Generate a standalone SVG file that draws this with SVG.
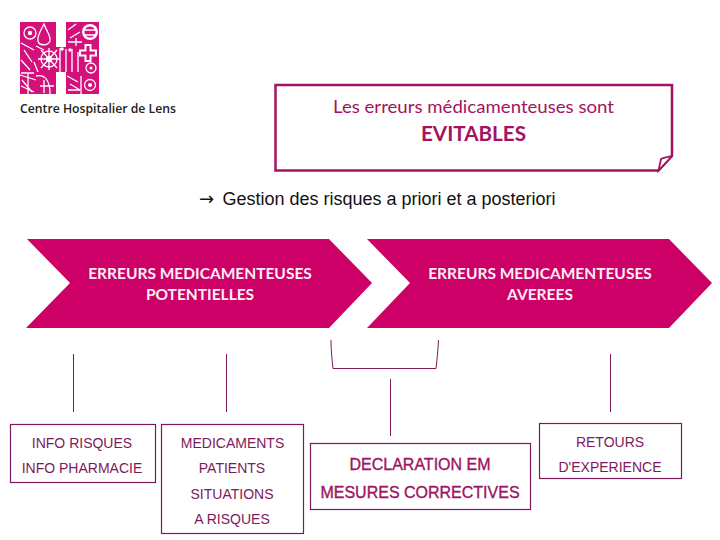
<svg xmlns="http://www.w3.org/2000/svg" width="720" height="540" viewBox="0 0 720 540">
<style>
.chev{fill:#cc0066}
.box{fill:#fff;stroke:#7d1a5b;stroke-width:1.2}
.line{fill:none;stroke:#7d1a5b;stroke-width:1}
.t{font-family:"Liberation Sans",Arial,sans-serif;font-size:14px;fill:#7d1a5b;text-anchor:middle}
.d{font-family:"Liberation Sans",Arial,sans-serif;font-size:16px;fill:#9c1560;stroke:#9c1560;stroke-width:.35;text-anchor:middle}
.c{font-family:Lato,"Open Sans",sans-serif;font-size:15.500px;font-weight:700;fill:#fbeef5;text-anchor:middle}
.w{fill:#fff}
.wl{fill:none;stroke:#fff;stroke-width:1.3}
</style>
<rect width="720" height="540" fill="#fff"/>
<g id="logo">
<path d="M20 22H56V47H66V22H99V94H66V72H56V94H20Z" fill="#d4117a"/>
<circle cx="30" cy="33" r="6" class="wl"/><circle cx="30" cy="33" r="2.200" class="w"/>
<path d="M44 24C40 32 37 36 38 41C39 46 48 46 50 41C51 36 47 32 44 24Z" class="wl"/>
<path d="M21 43L34 50M24 50L32 62M21 60L30 70M36 46L44 50M21 73H34M34 62L38 72" class="wl"/>
<circle cx="49" cy="59" r="8" class="wl"/><circle cx="49" cy="59" r="3.200" class="w"/>
<path d="M41 50L57 68M57 50L41 68M49 48V70M38 59H60" class="wl"/>
<path d="M60 48V72M66 49V72M72 49V72M78 52V72" class="wl"/>
<circle cx="62" cy="49" r="1.800" class="w"/><circle cx="70" cy="50" r="1.800" class="w"/>
<path d="M88 44V62M79 53H97" stroke="#fff" stroke-width="7" fill="none"/>
<path d="M88 46V60M81 53H95" stroke="#d4117a" stroke-width="3" fill="none"/>
<ellipse cx="90" cy="32" rx="8" ry="8" fill="#fff"/>
<ellipse cx="90" cy="32" rx="5.500" ry="5.500" fill="#d4117a"/><path d="M84 30H96M85 35H95" class="wl"/>
<path d="M68 30L76 24M70 38L80 32M68 42H82M76 38V46" class="wl"/>
<circle cx="91" cy="68" r="5" class="wl"/><circle cx="91" cy="68" r="1.500" class="w"/>
<circle cx="90" cy="85" r="5.500" class="wl"/><circle cx="90" cy="85" r="2" class="w"/>
<path d="M20 75L36 80M28 74V94M21 86L34 92M22 80L32 92" class="wl"/>
<path d="M36 76C46 74 50 82 50 94M40 86H54M44 80V93" class="wl"/>
<path d="M67 76L78 82M70 84L80 90M68 90H80M81 76V94" class="wl"/>
</g>
<text id="logo-text" x="20" y="113" font-family="'Open Sans',Lato,sans-serif" font-size="13" font-weight="600" fill="#222" textLength="156" lengthAdjust="spacingAndGlyphs">Centre Hospitalier de Lens</text>
<g id="callout">
<path d="M275.500 85H672V156L658.500 170.500H275.500Z" fill="#fff" stroke="#a5125f" stroke-width="2.500"/>
<path d="M658.500 170.500L661 159C664 157 669 157 672 156Z" fill="#fff" stroke="#a5125f" stroke-width="1.800"/>
<text x="473.500" y="113" font-family="Lato,'Open Sans',sans-serif" font-size="17" fill="#a5125f" text-anchor="middle" textLength="281" lengthAdjust="spacingAndGlyphs">Les erreurs médicamenteuses sont</text>
<text x="473.500" y="141" font-family="Lato,'Open Sans',sans-serif" font-size="20" font-weight="700" fill="#a5125f" text-anchor="middle" textLength="105" lengthAdjust="spacingAndGlyphs">EVITABLES</text>
</g>
<g id="subtitle">
<text x="199" y="205" font-family="'Liberation Sans',Arial,sans-serif" font-size="18" fill="#111"><tspan font-family="'DejaVu Sans',sans-serif">→</tspan><tspan x="222.500" textLength="333" lengthAdjust="spacingAndGlyphs">Gestion des risques a priori et a posteriori</tspan></text>
</g>
<g id="chevron-potentielles">
<path class="chev" d="M27 239H329L372 283L329 328H26L70 283Z"/>
<text class="c" x="200" y="278.500">ERREURS MEDICAMENTEUSES</text>
<text class="c" x="200" y="299.500">POTENTIELLES</text>
</g>
<g id="chevron-averees">
<path class="chev" d="M367 239H669L712 283L669 328H367L410 283Z"/>
<text class="c" x="540" y="278.500">ERREURS MEDICAMENTEUSES</text>
<text class="c" x="540" y="299.500">AVEREES</text>
</g>
<g id="connectors">
<path class="line" d="M73.500 354V412"/>
<path class="line" d="M226.500 354V412"/>
<path class="line" d="M331 340C331 350 332 360 333 368.500H436C437 360 438 350 438.500 340"/>
<path class="line" d="M390.500 379V436"/>
<path class="line" d="M610.500 354V412"/>
</g>
<g id="info">
<rect class="box" x="10.500" y="424.500" width="145" height="58"/>
<text class="t" x="82" y="447.500">INFO RISQUES</text>
<text class="t" x="82" y="472.500">INFO PHARMACIE</text>
</g>
<g id="medicaments">
<rect class="box" x="161.500" y="424.500" width="142" height="109"/>
<text class="t" x="232.500" y="447.500">MEDICAMENTS</text>
<text class="t" x="232" y="472.500">PATIENTS</text>
<text class="t" x="232" y="498.500">SITUATIONS</text>
<text class="t" x="232" y="523.500">A RISQUES</text>
</g>
<g id="declaration">
<rect class="box" x="310.500" y="443.500" width="220" height="66"/>
<text class="d" x="420" y="470">DECLARATION EM</text>
<text class="d" x="420" y="498">MESURES CORRECTIVES</text>
</g>
<g id="retours">
<rect class="box" x="539.500" y="423.500" width="142" height="55"/>
<text class="t" x="610" y="446.500">RETOURS</text>
<text class="t" x="610" y="471.500">D'EXPERIENCE</text>
</g>
</svg>
